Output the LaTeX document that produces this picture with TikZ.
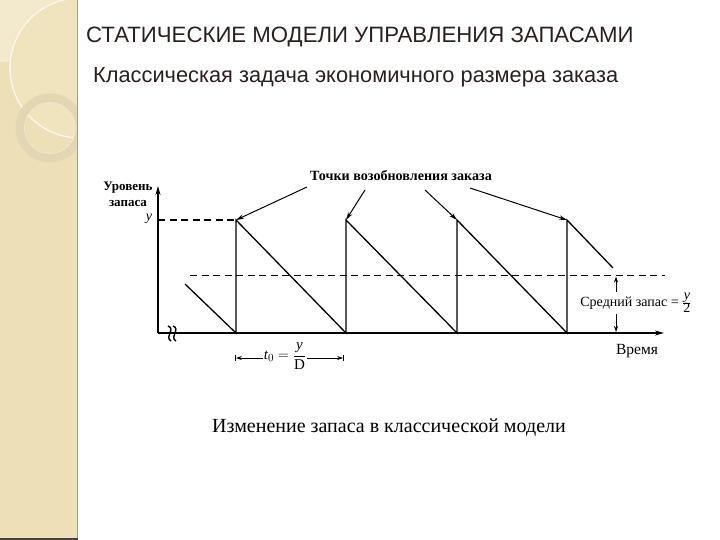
\documentclass[tikz,border=0pt]{standalone}
\usepackage{fontspec}
\setmainfont{Liberation Serif}
\newfontfamily\sansf{Liberation Sans}
\usetikzlibrary{arrows.meta}
\definecolor{strip}{HTML}{EEE0B6}
\definecolor{stripl}{HTML}{F3E9CD}
\definecolor{ringc}{HTML}{E3D6B2}
\definecolor{titlec}{HTML}{2E1F1F}
\begin{document}
\begin{tikzpicture}[x=1pt,y=-1pt,
  chart/.style={line width=1.3pt, line join=miter},
  dashline/.style={line width=1.1pt, dash pattern=on 7pt off 4.5pt},
  pointer/.style={line width=1pt, -{Stealth[length=8pt,width=4.5pt]}},
  lbl/.style={font=\fontsize{14}{16}\selectfont, inner sep=1pt},
  blbl/.style={font=\bfseries\fontsize{13}{16}\selectfont, inner sep=1pt},
  >={Stealth[length=6pt,width=4pt]}]
\useasboundingbox (0,0) rectangle (720,540);
\fill[white] (0,0) rectangle (720,540);
% left strip
\fill[strip] (0,0) rectangle (78,540);
\begin{scope}
  \clip (0,0) rectangle (77,540);
  \fill[stripl] (0,0) rectangle (78,62);
  \fill[stripl!40!strip] (80,68) circle (70);
  \draw[white!70!strip, line width=1.4pt] (80,68) circle (70);
  \draw[ringc, line width=9pt] (50,128) circle (30);
  \draw[white!40!ringc, line width=0.8pt] (50,128) circle (25.5);
\end{scope}
\draw[strip!70!black, line width=0.8pt] (77.5,0) -- (77.5,540);
\draw[black!75, line width=1.5pt] (0,539.2) -- (78,539.2);
% titles
\node[font=\sansf\fontsize{22.2}{24}\selectfont, text=titlec, anchor=west, inner sep=0pt] (title) at (86,37) {СТАТИЧЕСКИЕ МОДЕЛИ УПРАВЛЕНИЯ ЗАПАСАМИ};
\node[font=\sansf\fontsize{21.8}{24}\selectfont, text=titlec, anchor=west, inner sep=0pt] (subtitle) at (93,77) {Классическая задача экономичного размера заказа};
% coordinates
\coordinate (O) at (158,333);
\coordinate (Ytop) at (158,186);
\coordinate (Xend) at (664,333);
\coordinate (S) at (185,284);
\coordinate (P1) at (236,220);
\coordinate (P2) at (346,220);
\coordinate (P3) at (457,220);
\coordinate (P4) at (567,220);
\coordinate (B1) at (236,333);
\coordinate (B2) at (346,333);
\coordinate (B3) at (457,333);
\coordinate (B4) at (567,333);
\coordinate (E) at (613,268);
\coordinate (Yl) at (158,220);
\coordinate (M0) at (190,275.5);
\coordinate (M1) at (665,275.5);
% axes
\draw[chart, -{Stealth[length=9pt,width=5pt]}] (O) -- (Ytop);
\draw[chart, -{Stealth[length=9pt,width=5pt]}] (O) -- (Xend);
% break mark
\draw[line width=1.4pt] (168,326) .. controls (176,329) and (164,337) .. (171,341);
\draw[line width=1.4pt] (173,326) .. controls (181,329) and (169,337) .. (176,341);
% dashed lines
\draw[dashline] (Yl) -- (P1);
\draw[dashline] (M0) -- (M1);
% sawtooth
\draw[chart] (S) -- (B1) -- (P1) -- (B2) -- (P2) -- (B3) -- (P3) -- (B4) -- (P4) -- (E);
% axis labels
\node[blbl, align=center] (ylab) at (128,194) {Уровень\\запаса};
\node[lbl, font=\itshape\fontsize{14}{14}\selectfont] (ysym) at (149,219) {y};
\node[lbl, font=\fontsize{15.5}{16}\selectfont] (time) at (637,351) {Время};
% reorder points
\node[blbl, font=\bfseries\fontsize{14.1}{16}\selectfont] (reord) at (401,176) {Точки возобновления заказа};
\coordinate (a1) at (307,187);
\coordinate (a2) at (365,190);
\coordinate (a3) at (425,190);
\coordinate (a4) at (470,188);
\draw[pointer] (a1) -- (P1);
\draw[pointer] (a2) -- (P2);
\draw[pointer] (a3) -- (P3);
\draw[pointer] (a4) -- (P4);
% average stock
\coordinate (A1) at (616,276.5);
\coordinate (A2) at (616,332);
\draw[line width=0.8pt, <->] (A1) -- (A2);
\node[lbl, fill=white, inner sep=1.5pt] (avg) at (636,303) {Средний запас = $\frac{\textit{y}}{\textrm{2}}$};
% cycle time
\coordinate (T1) at (235,358);
\coordinate (T2) at (344,358);
\draw[line width=0.8pt, |<->|] (T1) -- (T2);
\node[lbl, fill=white, font=\fontsize{15}{16}\selectfont] (tlab) at (285,356) {$\textit{t}_0=\displaystyle\frac{\textit{y}}{\textrm{D}}$};
% caption
\node[font=\fontsize{20}{22}\selectfont, inner sep=0pt] (caption) at (389,428) {Изменение запаса в классической модели};
\end{tikzpicture}
\end{document}
